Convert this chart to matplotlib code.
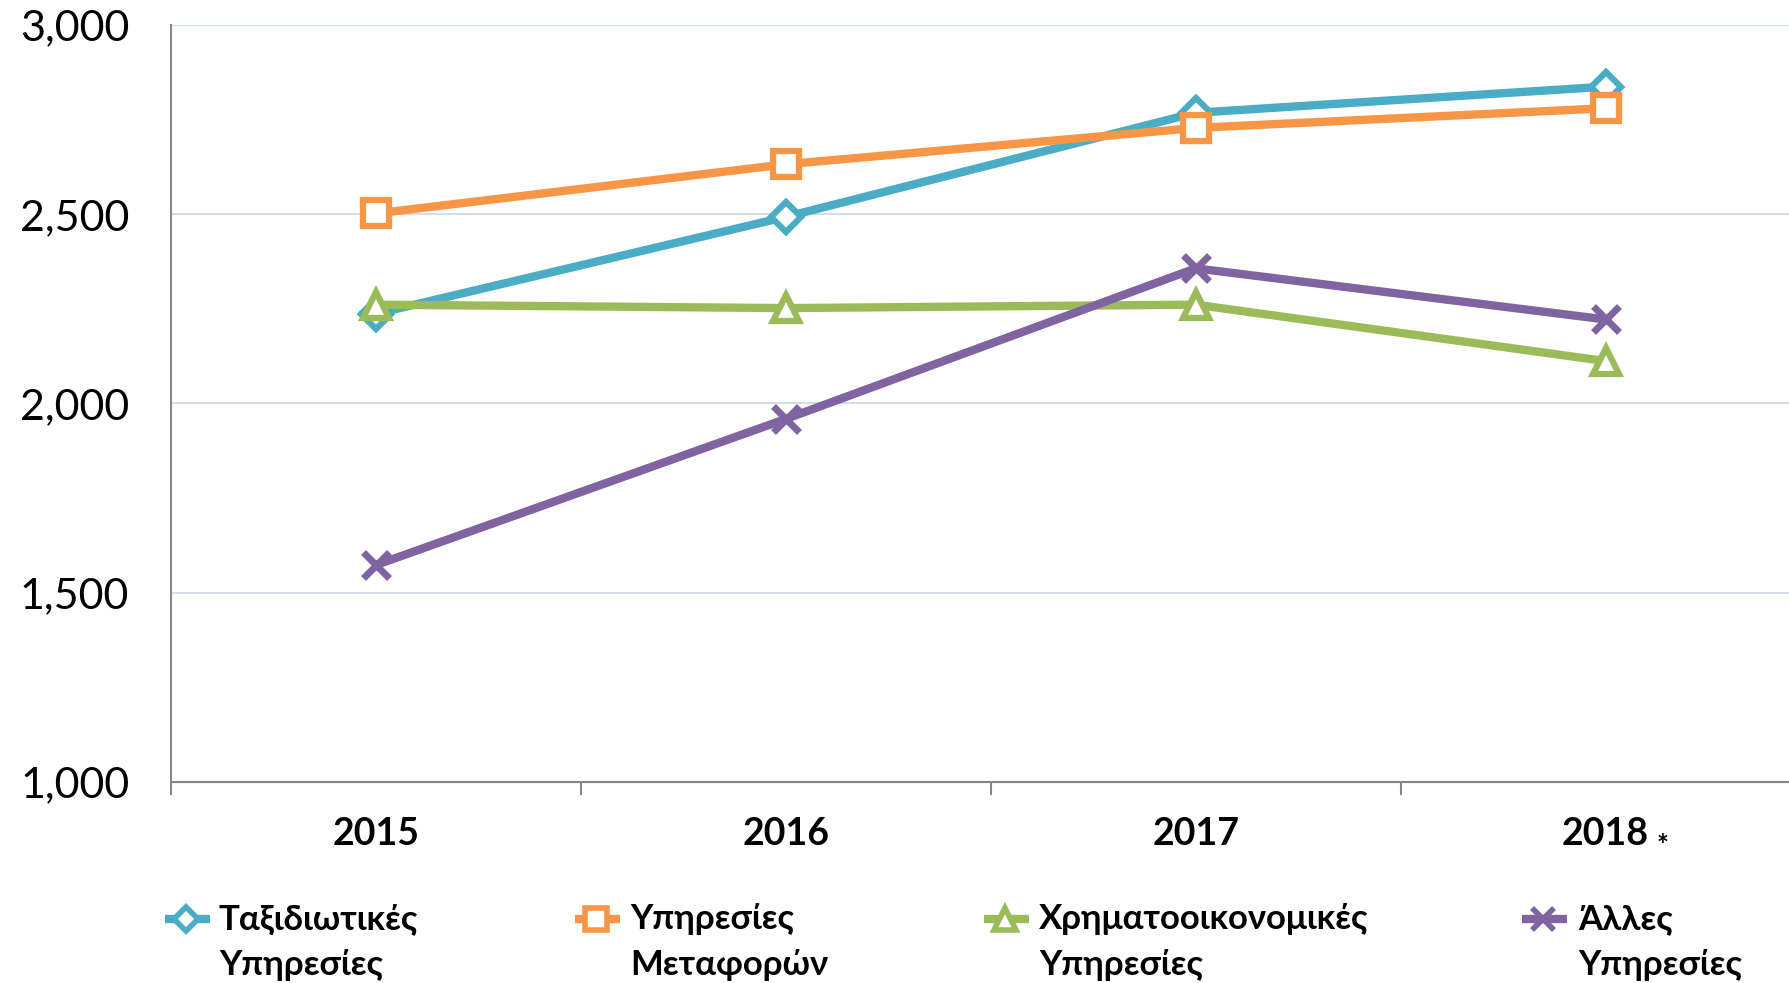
import matplotlib.pyplot as plt
from matplotlib.ticker import FuncFormatter, FixedLocator
from matplotlib.lines import Line2D

plt.rcParams['font.family'] = ['Lato', 'Open Sans', 'DejaVu Sans']

years = ['2015', '2016', '2017', '2018']
travel = [2237, 2493, 2768, 2837]
transport = [2502, 2632, 2728, 2780]
financial = [2261, 2252, 2261, 2112]
other = [1573, 1959, 2357, 2222]

labels = ['Ταξιδιωτικές\nΥπηρεσίες', 'Υπηρεσίες\nΜεταφορών',
          'Χρηματοοικονομικές\nΥπηρεσίες', 'Άλλες\nΥπηρεσίες']
colors = ['#4BACC6', '#F79646', '#9BBB59', '#8064A2']
markers = ['D', 's', '^', 'x']
msizes = [15, 19, 19, 19]
series = [travel, transport, financial, other]

fig = plt.figure(figsize=(17.9, 9.83), dpi=100)
ax = fig.add_axes([0.0955, 0.2045, 0.9045, 0.7701])

x = range(len(years))
lines = []
for vals, c, m, ms in zip(series, colors, markers, msizes):
    ln, = ax.plot(x, vals, color=c, linewidth=6, marker=m, markersize=ms,
                  markerfacecolor='white', markeredgecolor=c,
                  markeredgewidth=4.5, solid_capstyle='butt')
    lines.append(ln)
lines[3].set_markeredgewidth(5)

ax.set_xlim(-0.5, 3.45)
ax.set_ylim(1000, 3000)
ax.set_yticks([1000, 1500, 2000, 2500, 3000])
ax.yaxis.set_major_formatter(FuncFormatter(lambda v, p: f'{int(v):,}'))
ax.tick_params(axis='y', length=0, pad=30, labelsize=31)

ax.set_xticks(list(x))
ax.set_xticklabels(years, fontsize=27, fontweight='bold')
ax.xaxis.set_minor_locator(FixedLocator([-0.5, 0.5, 1.5, 2.5]))
ax.tick_params(axis='x', which='major', length=0, pad=25)
ax.tick_params(axis='x', which='minor', length=9, width=1.5, color='#868686')

ax.grid(axis='y', color='#D4DCEE', linewidth=1.5)
ax.set_axisbelow(True)
for s in ['top', 'right']:
    ax.spines[s].set_visible(False)
for s in ['left', 'bottom']:
    ax.spines[s].set_color('#868686')
    ax.spines[s].set_linewidth(1.5)

ax.annotate('*', xy=(3, 0), xycoords=ax.get_xaxis_transform(),
            xytext=(37, -46), textcoords='offset points',
            ha='left', va='center', fontsize=20, fontweight='bold')

# legend drawn by hand: marker on the first text line, text wrapped in two lines
W, H = 1790, 983
marker_px = [186, 596, 1005, 1543]
text_px = [219, 630, 1039, 1578]
row1, row2 = 919, 965
for ln, lab, mx, tx in zip(lines, labels, marker_px, text_px):
    y1 = 1 - row1 / H
    fig.add_artist(Line2D([(mx - 21) / W, (mx + 24) / W], [y1, y1],
                          transform=fig.transFigure, color=ln.get_color(),
                          linewidth=6, solid_capstyle='butt'))
    fig.add_artist(Line2D([mx / W], [y1], transform=fig.transFigure,
                          linestyle='none', marker=ln.get_marker(),
                          markersize=ln.get_markersize() * 0.8,
                          markerfacecolor='white', markeredgecolor=ln.get_color(),
                          markeredgewidth=4))
    first, second = lab.split('\n')
    fig.text(tx / W, y1, first, fontsize=25, fontweight='bold', va='center', ha='left')
    fig.text(tx / W, 1 - row2 / H, second, fontsize=25, fontweight='bold',
             va='center', ha='left')

fig.savefig('out.png', dpi=100)
